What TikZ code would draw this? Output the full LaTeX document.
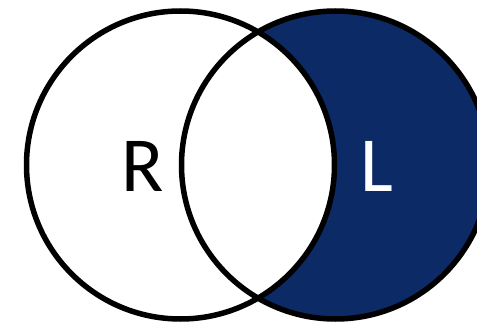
\documentclass[tikz,border=0pt]{standalone}
\usepackage{fontspec}
\setmainfont{Carlito}
\usepackage{tikz}
\definecolor{darknavy}{HTML}{0C2B66}

\begin{document}
\begin{tikzpicture}[x=1pt,y=-1pt,
		conjunto/.style={circle,draw=black,line width=5.5pt,minimum size=308pt,inner sep=0pt},
		etiqueta/.style={font=\fontsize{78}{78}\selectfont,inner sep=0pt}
		]
		\useasboundingbox (0,0) rectangle (477,324);
		\begin{scope}
			\clip (0,0) rectangle (477,324);
			\fill[darknavy] (335.5,165) circle (154);
			\fill[white] (180.5,165) circle (154);
			\node[conjunto] (rset) at (180.5,165) {};
			\node[conjunto] (lset) at (335.5,165) {};
		\end{scope}
		\node[etiqueta] (rlabel) at (143,166) {R};
		\node[etiqueta,text=white] (llabel) at (377,166) {L};
	\end{tikzpicture}
\end{document}
